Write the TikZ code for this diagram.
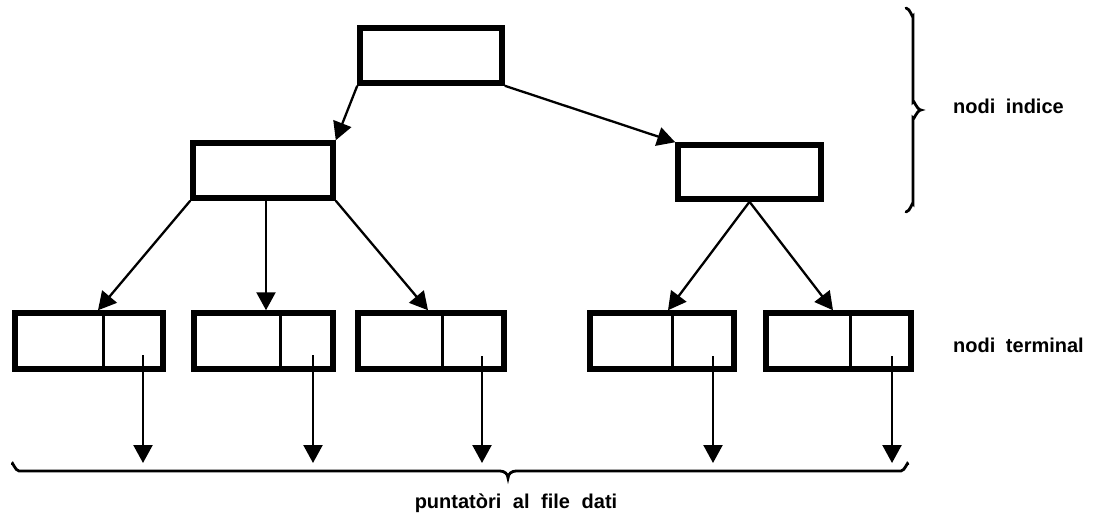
\documentclass[tikz,border=0pt]{standalone}
\usepackage{fontspec}
\setmainfont{Liberation Sans}
\usetikzlibrary{arrows.meta}
\tikzset{
  box/.style={draw, line width=5.5pt, inner sep=0pt, minimum height=55pt},
  divline/.style={line width=2.5pt},
  ptr/.style={line width=2.3pt, -{Triangle[length=18pt,width=19pt]}},
  bracepath/.style={line width=2.8pt, line cap=round},
  lbl/.style={font=\bfseries\fontsize{20}{23}\selectfont, inner sep=0pt}
}
\begin{document}
\begin{tikzpicture}[x=1pt,y=-1pt]
\useasboundingbox (0,0) rectangle (1097,513);
% index nodes
\node[box, minimum width=142pt] (root) at (431,55.5) {};
\node[box, minimum width=140pt] (l2l) at (263,170.5) {};
\node[box, minimum width=143pt, minimum height=54pt] (l2r) at (749.5,172) {};
% terminal nodes
\node[box, minimum width=148pt, minimum height=56pt] (leaf1) at (89,341) {};
\node[box, minimum width=139pt, minimum height=56pt] (leaf2) at (263.5,341) {};
\node[box, minimum width=146pt, minimum height=56pt] (leaf3) at (431,341) {};
\node[box, minimum width=144pt, minimum height=56pt] (leaf4) at (662,341) {};
\node[box, minimum width=145pt, minimum height=56pt] (leaf5) at (838.5,341) {};
% dividers
\draw[divline] ([xshift=91pt]leaf1.north west) -- ([xshift=91pt]leaf1.south west);
\draw[divline] ([xshift=89pt]leaf2.north west) -- ([xshift=89pt]leaf2.south west);
\draw[divline] ([xshift=87pt]leaf3.north west) -- ([xshift=87pt]leaf3.south west);
\draw[divline] ([xshift=85pt]leaf4.north west) -- ([xshift=85pt]leaf4.south west);
\draw[divline] ([xshift=87pt]leaf5.north west) -- ([xshift=87pt]leaf5.south west);
% tree arrows
\draw[ptr] (root.south west) -- (l2l.north east);
\draw[ptr] (root.south east) -- (l2r.north west);
\draw[ptr] (l2l.south west) -- ([xshift=9pt]leaf1.north);
\draw[ptr] ([xshift=3pt]l2l.south) -- ([xshift=2.5pt]leaf2.north);
\draw[ptr] (l2l.south east) -- ([xshift=-3pt]leaf3.north);
\draw[ptr] (l2r.south) -- ([xshift=6pt]leaf4.north);
\draw[ptr] (l2r.south) -- ([xshift=-5.5pt]leaf5.north);
% data pointers
\coordinate (p1s) at (143,355); \coordinate (p1e) at (143,463);
\coordinate (p2s) at (313,355); \coordinate (p2e) at (313,463);
\coordinate (p3s) at (482,356); \coordinate (p3e) at (482,463);
\coordinate (p4s) at (713,356); \coordinate (p4e) at (713,463);
\coordinate (p5s) at (892,356); \coordinate (p5e) at (892,463);
\draw[ptr] (p1s) -- (p1e);
\draw[ptr] (p2s) -- (p2e);
\draw[ptr] (p3s) -- (p3e);
\draw[ptr] (p4s) -- (p4e);
\draw[ptr] (p5s) -- (p5e);
% right brace
\draw[bracepath] (906,8) to[out=0,in=-90] (913,16) -- (913,102)
  to[out=90,in=180] (921,110) to[out=180,in=-90] (913,118) -- (913,204)
  to[out=90,in=0] (906,212);
% bottom brace
\draw[bracepath] (12,464) to[out=90,in=180] (19,471) -- (500,471)
  to[out=0,in=90] (508,478) to[out=90,in=180] (516,471) -- (901,471)
  to[out=0,in=90] (908,464);
% labels
\node[lbl, anchor=base] (tpd) at (516,508) {puntatòri\hspace{6pt} al\hspace{6pt} file\hspace{6pt} dati};
\node[lbl, anchor=base west] (tni) at (953,114) {nodi\hspace{5pt} indice};
\node[lbl, anchor=base west] (tnt) at (953,352) {nodi\hspace{5pt} terminal};
\end{tikzpicture}
\end{document}
